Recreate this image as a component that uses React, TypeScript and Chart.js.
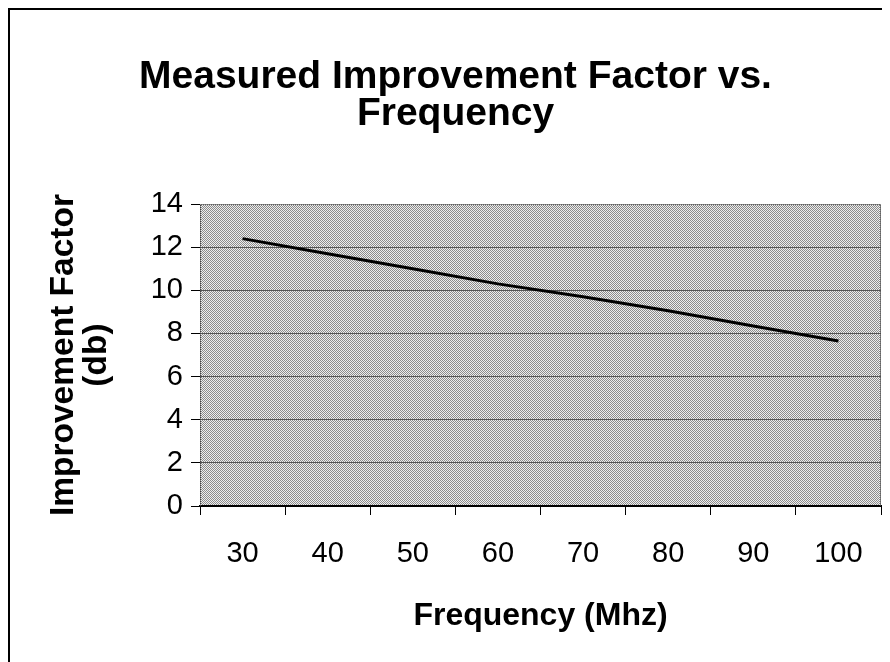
import React, { useEffect, useRef } from "react";
import { Chart, registerables } from "chart.js";

Chart.register(...registerables);

const categories = ["30", "40", "50", "60", "70", "80", "90", "100"];
const improvementDb = [12.4, 11.7, 11.0, 10.3, 9.7, 9.05, 8.35, 7.65];
const titleLines = ["Measured Improvement Factor vs.", "Frequency"];
const yTitleLines = ["Improvement Factor", "(db)"];
const xTitle = "Frequency (Mhz)";

const FONT = "'Liberation Sans', Arial, Helvetica, sans-serif";

const plotPlugin = {
  id: "plotDecor",
  beforeDraw(chart: any) {
    const { ctx, chartArea } = chart;
    if (!chartArea) return;
    const pc = document.createElement("canvas");
    pc.width = 2;
    pc.height = 2;
    const p = pc.getContext("2d")!;
    p.fillStyle = "#eeeeee";
    p.fillRect(0, 0, 2, 2);
    p.fillStyle = "#8c8c8c";
    p.fillRect(0, 0, 1, 1);
    p.fillRect(1, 1, 1, 1);
    const pat = ctx.createPattern(pc, "repeat");
    ctx.save();
    ctx.fillStyle = pat;
    ctx.fillRect(chartArea.left, chartArea.top, chartArea.right - chartArea.left, chartArea.bottom - chartArea.top);
    ctx.restore();
  },
  beforeDatasetsDraw(chart: any) {
    const { ctx, chartArea } = chart;
    const { left, right, top, bottom } = chartArea;
    ctx.save();
    ctx.strokeStyle = "#444444";
    ctx.lineWidth = 1;
    ctx.setLineDash([1, 1]);
    ctx.beginPath();
    ctx.moveTo(left + 0.5, bottom);
    ctx.lineTo(left + 0.5, top + 0.5);
    ctx.lineTo(right - 0.5, top + 0.5);
    ctx.lineTo(right - 0.5, bottom);
    ctx.stroke();
    ctx.restore();
  },
};

export default function App() {
  const ref = useRef<HTMLCanvasElement>(null);
  useEffect(() => {
    if (!ref.current) return;
    const chart = new Chart(ref.current, {
      type: "line",
      data: {
        labels: categories,
        datasets: [
          {
            label: "Improvement Factor",
            data: improvementDb,
            borderColor: "#000000",
            borderWidth: 3,
            pointRadius: 0,
            tension: 0,
            fill: false,
          },
        ],
      },
      options: {
        responsive: false,
        animation: false,
        layout: { padding: { left: 20, right: 5, top: 0, bottom: 0 } },
        plugins: {
          legend: { display: false },
          tooltip: { enabled: false },
          title: {
            display: true,
            text: titleLines,
            color: "#000000",
            font: { family: FONT, size: 39, weight: "bold", lineHeight: 0.95 },
            padding: { top: 49, bottom: 71 },
          },
        },
        scales: {
          x: {
            offset: true,
            afterFit: (s: any) => {
              s.height = 164;
            },
            grid: {
              offset: true,
              drawOnChartArea: false,
              drawTicks: true,
              tickLength: 9,
              tickColor: "#000000",
              color: "#000000",
            },
            border: { display: true, color: "#000000", width: 2 },
            ticks: {
              color: "#000000",
              font: { family: FONT, size: 29 },
              padding: 22,
              maxRotation: 0,
            },
            title: {
              display: true,
              text: xTitle,
              color: "#000000",
              font: { family: FONT, size: 32, weight: "bold", lineHeight: 1.0 },
              padding: { top: 0, bottom: 38 },
            },
          },
          y: {
            min: 0,
            max: 14,
            afterFit: (s: any) => {
              s.width = 170;
            },
            grid: {
              drawTicks: true,
              tickLength: 9,
              tickColor: "#000000",
              color: (c: any) =>
                c.tick && (c.tick.value === 0 || c.tick.value === 14) ? "rgba(0,0,0,0)" : "#555555",
              lineWidth: 1,
            },
            border: { display: false },
            ticks: {
              stepSize: 2,
              color: "#000000",
              font: { family: FONT, size: 29 },
              padding: 8,
            },
            title: {
              display: true,
              text: yTitleLines,
              color: "#000000",
              font: { family: FONT, size: 33.5, weight: "bold", lineHeight: 1.0 },
              padding: { top: 17, bottom: 0 },
            },
          },
        },
      },
      plugins: [plotPlugin],
    });
    return () => chart.destroy();
  }, []);
  return (
    <div style={{ border: "2px solid #000", width: 876, height: 660, background: "#fff" }}>
      <canvas ref={ref} width={876} height={660} style={{ display: "block" }} />
    </div>
  );
}
